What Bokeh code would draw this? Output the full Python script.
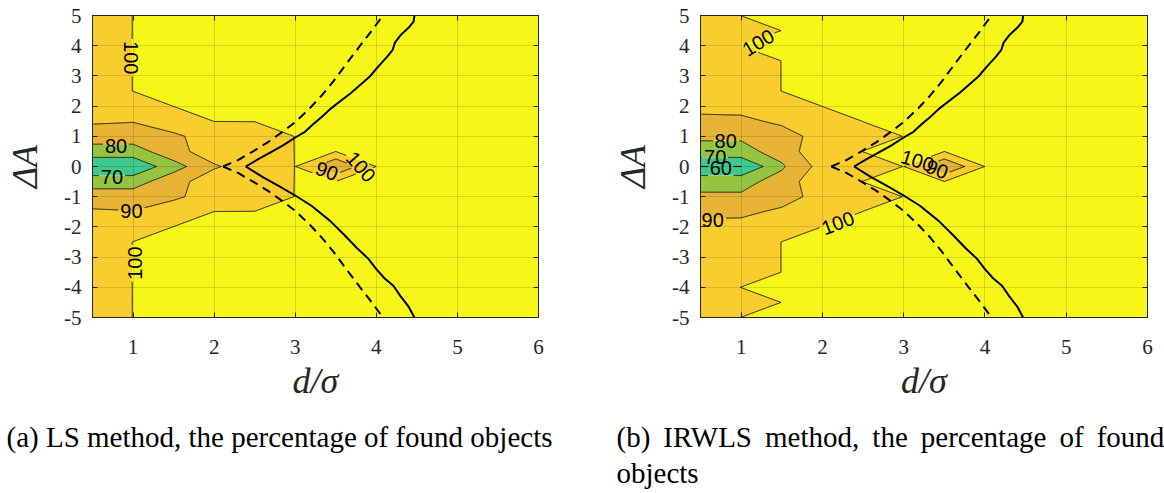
import math
import numpy as np
import contourpy
from bokeh.plotting import figure
from bokeh.layouts import row
from bokeh.models import LinearAxis, Title, FixedTicker, ColumnDataSource
from bokeh.core.properties import value
from bokeh.embed import file_html
from bokeh.resources import INLINE

# ---------------- data ----------------
x_grid = [0.5, 1.0, 1.5, 2.0, 2.5, 3.0, 3.5, 4.0, 4.5, 5.0, 5.5, 6.0]
dA_half = [0.0, 0.5, 1.0, 1.5, 2.0, 2.5, 3.0, 3.5, 4.0, 4.5, 5.0]   # mirrored for dA < 0

# (a) LS method: percentage of found objects, one list per d/sigma column (dA = 0 ... 5)
ls_pct = [
    [62.0, 75.3, 85.1, 91.2, 95.0, 95.0, 95.0, 95.0, 95.0, 95.0, 95.0],
    [62.0, 75.3, 85.1, 90.4, 95.0, 100, 100, 100, 100, 100, 100],
    [75.8, 86.5, 88.5, 94.75, 100, 100, 100, 100, 100, 100, 100],
    [88.9, 95.25, 93.9, 100, 100, 100, 100, 100, 100, 100, 100],
    [95.0, 96.0, 97.0, 100, 100, 100, 100, 100, 100, 100, 100],
    [100, 100, 100, 100, 100, 100, 100, 100, 100, 100, 100],
    [80.0, 100, 100, 100, 100, 100, 100, 100, 100, 100, 100],
    [100, 100, 100, 100, 100, 100, 100, 100, 100, 100, 100],
    [100, 100, 100, 100, 100, 100, 100, 100, 100, 100, 100],
    [100, 100, 100, 100, 100, 100, 100, 100, 100, 100, 100],
    [100, 100, 100, 100, 100, 100, 100, 100, 100, 100, 100],
    [100, 100, 100, 100, 100, 100, 100, 100, 100, 100, 100],
]

# (b) IRWLS method
irwls_pct = [
    [59.9, 76.7, 81.4, 88.0, 92.3, 95.0, 95.0, 95.0, 95.0, 95.0, 95.0],
    [59.9, 76.7, 81.4, 88.0, 93.0, 95.0, 95.0, 95.0, 100, 95.0, 100],
    [78.6, 84.0, 86.0, 91.7, 95.0, 100, 100, 100, 100, 100, 100],
    [94.0, 98.0, 93.7, 96.0, 100, 100, 100, 100, 100, 100, 100],
    [96.0, 100, 97.0, 100, 100, 100, 100, 100, 100, 100, 100],
    [100, 100, 100, 100, 100, 100, 100, 100, 100, 100, 100],
    [80.0, 100, 100, 100, 100, 100, 100, 100, 100, 100, 100],
    [100, 100, 100, 100, 100, 100, 100, 100, 100, 100, 100],
    [100, 100, 100, 100, 100, 100, 100, 100, 100, 100, 100],
    [100, 100, 100, 100, 100, 100, 100, 100, 100, 100, 100],
    [100, 100, 100, 100, 100, 100, 100, 100, 100, 100, 100],
    [100, 100, 100, 100, 100, 100, 100, 100, 100, 100, 100],
]

contour_levels = [55, 60, 70, 80, 90, 99.9, 101]
line_levels = [60, 70, 80, 90, 99.9]

# dashed boundary (upper branch, mirrored for the lower one)
dash_x = [2.11, 2.30, 2.48, 2.66, 2.85, 3.00, 3.18, 3.33, 3.47, 3.63, 3.80, 3.93, 4.06, 4.08]
dash_y = [0.0, 0.22, 0.50, 0.80, 1.16, 1.47, 1.93, 2.36, 2.82, 3.40, 4.00, 4.45, 4.92, 5.0]

# solid boundary
solid_up_x = [2.39, 2.55, 2.69, 2.85, 3.00, 3.12, 3.22, 3.33, 3.43, 3.55, 3.68, 3.80, 3.92,
              4.02, 4.13, 4.20, 4.23, 4.30, 4.40, 4.46, 4.47]
solid_up_y = [0.0, 0.25, 0.46, 0.70, 0.96, 1.15, 1.40, 1.65, 1.90, 2.15, 2.42, 2.70, 2.98,
              3.30, 3.62, 3.85, 4.10, 4.35, 4.60, 4.80, 5.0]
solid_lo_x = [2.39, 2.60, 2.80, 3.00, 3.20, 3.43, 3.60, 3.76, 3.90, 4.00, 4.10, 4.21, 4.30, 4.40, 4.47]
solid_lo_y = [0.0, -0.35, -0.65, -0.96, -1.30, -1.80, -2.25, -2.70, -3.05, -3.40, -3.70, -3.95,
              -4.30, -4.65, -5.0]

# contour labels
ls_lab_text = ["100", "80", "70", "90", "100", "90", "100"]
ls_lab_x = [0.98, 0.79, 0.74, 0.98, 1.02, 3.39, 3.81]
ls_lab_y = [3.6, 0.69, -0.34, -1.47, -3.2, -0.15, -0.01]
ls_lab_angle = [-math.pi / 2, 0, 0, 0, math.pi / 2, -0.36, -0.85]

ir_lab_text = ["100", "80", "70", "60", "90", "100", "100", "90"]
ir_lab_x = [1.21, 0.81, 0.68, 0.75, 0.65, 2.19, 3.17, 3.41]
ir_lab_y = [4.1, 0.83, 0.30, -0.06, -1.76, -1.87, 0.19, -0.09]
ir_lab_angle = [0.55, 0, 0, 0, 0, 0.36, -0.3, -0.36]

x_ticks = [1, 2, 3, 4, 5, 6]
y_ticks = [-5, -4, -3, -2, -1, 0, 1, 2, 3, 4, 5]
y_tick_text = {t: str(t) for t in y_ticks}   # plain hyphen-minus as in the reference

caption_a = "(a) LS method, the percentage of found objects"
caption_b = "(b)\u2009 IRWLS\u2009 method,\u2009 the\u2009 percentage\u2009 of\u2009 found\nobjects"

# ---------------- styles ----------------
BAND_COLORS = ["#3fc98e", "#3fc98e", "#95c442", "#e8b436", "#f9cd2e", "#f6f618"]
AX_COL = "#262626"
FRAME_H = 302
SERIF = "Liberation Serif"
LABEL_FS = 20


def full_grid(cols):
    y = [-v for v in reversed(dA_half[1:])] + list(dA_half)
    z = np.array([list(reversed(c[1:])) + list(c) for c in cols], dtype=float).T
    return np.array(x_grid, dtype=float), np.array(y, dtype=float), z


def masked_contour_lines(x, y, z, labels, sx, sy):
    gen = contourpy.contour_generator(x, y, z, line_type=contourpy.LineType.Separate)
    out_x, out_y = [], []
    for lev in line_levels:
        for seg in gen.lines(lev):
            xs, ys = seg[:, 0], seg[:, 1]
            rx, ry = [], []
            for i in range(len(xs) - 1):
                x0, y0, x1, y1 = xs[i], ys[i], xs[i + 1], ys[i + 1]
                L = math.hypot((x1 - x0) * sx, (y1 - y0) * sy)
                n = max(1, int(math.ceil(L / 0.7)))
                for k in range(n):
                    t = k / n
                    rx.append(x0 + t * (x1 - x0))
                    ry.append(y0 + t * (y1 - y0))
            rx.append(xs[-1])
            ry.append(ys[-1])
            rx = np.array(rx)
            ry = np.array(ry)
            keep = np.ones(len(rx), dtype=bool)
            for (txt, lx, ly, ang) in labels:
                w = len(txt) * 0.56 * LABEL_FS + 3
                h = LABEL_FS * 0.8
                dx = (rx - lx) * sx
                dy = (ry - ly) * sy
                u = dx * math.cos(ang) + dy * math.sin(ang)
                v = -dx * math.sin(ang) + dy * math.cos(ang)
                keep &= ~((np.abs(u) < w / 2) & (np.abs(v) < h / 2))
            rx = np.where(keep, rx, np.nan)
            ry = np.where(keep, ry, np.nan)
            out_x.append(rx)
            out_y.append(ry)
    return out_x, out_y


def make_panel(cols, lab_text, lab_x, lab_y, lab_ang, frame_w, border_l, border_r, caption, cap_offset):
    p = figure(frame_width=frame_w, frame_height=FRAME_H, x_range=(0.5, 6), y_range=(-5, 5),
               output_backend="svg", toolbar_location=None,
               min_border_left=border_l, min_border_right=border_r, min_border_top=15,
               min_border_bottom=2, background_fill_color="white", border_fill_color="white")
    sx = frame_w / 5.5
    sy = FRAME_H / 10.0
    x, y, z = full_grid(cols)
    p.contour(x, y, z, contour_levels, fill_color=BAND_COLORS, line_color=None)

    labels = list(zip(lab_text, lab_x, lab_y, lab_ang))
    lx, ly = masked_contour_lines(x, y, z, labels, sx, sy)
    p.multi_line(xs=lx, ys=ly, line_color="black", line_width=0.9)

    p.line(dash_x, dash_y, line_color="black", line_width=2, line_dash="9 6")
    p.line(dash_x, [-v for v in dash_y], line_color="black", line_width=2, line_dash="9 6")
    p.line(solid_up_x, solid_up_y, line_color="black", line_width=2)
    p.line(solid_lo_x, solid_lo_y, line_color="black", line_width=2)

    src = ColumnDataSource(dict(x=lab_x, y=lab_y, text=lab_text, angle=lab_ang))
    p.text(x="x", y="y", text="text", angle="angle", source=src,
           text_font=value("Liberation Sans"), text_font_size=f"{LABEL_FS}px",
           text_align="center", text_baseline="middle", text_color="black")

    # axes
    p.xaxis.ticker = FixedTicker(ticks=x_ticks)
    p.yaxis.ticker = FixedTicker(ticks=y_ticks)
    p.yaxis.major_label_overrides = y_tick_text
    for ax in (p.xaxis[0], p.yaxis[0]):
        ax.major_tick_in = 5
        ax.major_tick_out = 0
        ax.minor_tick_in = 0
        ax.minor_tick_out = 0
        ax.axis_line_color = AX_COL
        ax.major_tick_line_color = AX_COL
        ax.major_label_text_font = SERIF
        ax.major_label_text_font_size = "21px"
        ax.major_label_text_color = AX_COL
        ax.axis_label_text_font = SERIF
        ax.axis_label_text_font_style = "italic"
        ax.axis_label_text_font_size = "36px"
        ax.axis_label_text_color = AX_COL
    p.xaxis.axis_label = "d/σ"
    p.yaxis.axis_label = "ΔA"
    p.xaxis.major_label_standoff = 22
    p.yaxis.major_label_standoff = 11
    p.xaxis.axis_label_standoff = 4
    p.yaxis.axis_label_standoff = 16

    for side, tk in (("right", y_ticks), ("above", x_ticks)):
        ax = LinearAxis(ticker=FixedTicker(ticks=tk), major_label_overrides={t: "" for t in tk},
                        major_label_text_font_size="1px",
                        major_tick_in=5, major_tick_out=0, minor_tick_in=0, minor_tick_out=0,
                        axis_line_color=AX_COL, major_tick_line_color=AX_COL,
                        major_label_standoff=0)
        p.add_layout(ax, side)

    p.xgrid.ticker = FixedTicker(ticks=x_ticks)
    p.ygrid.ticker = FixedTicker(ticks=y_ticks)
    p.grid.grid_line_color = "black"
    p.grid.grid_line_alpha = 0.13
    p.grid.level = "overlay"
    p.outline_line_color = AX_COL
    p.outline_line_width = 1

    t = Title(text=caption, align="left", offset=cap_offset, text_font=SERIF,
              text_font_size="29px", text_font_style="normal", text_color="black",
              text_line_height=1.13, standoff=31)
    p.add_layout(t, "below")
    return p


pa = make_panel(ls_pct, ls_lab_text, ls_lab_x, ls_lab_y, ls_lab_angle,
                446, 92, 20, caption_a + "\n ", -86)
pb = make_panel(irwls_pct, ir_lab_text, ir_lab_x, ir_lab_y, ir_lab_angle,
                447, 142, 17, caption_b, -84)

layout = row(pa, pb)
open("out.html", "w").write(file_html(layout, INLINE))
